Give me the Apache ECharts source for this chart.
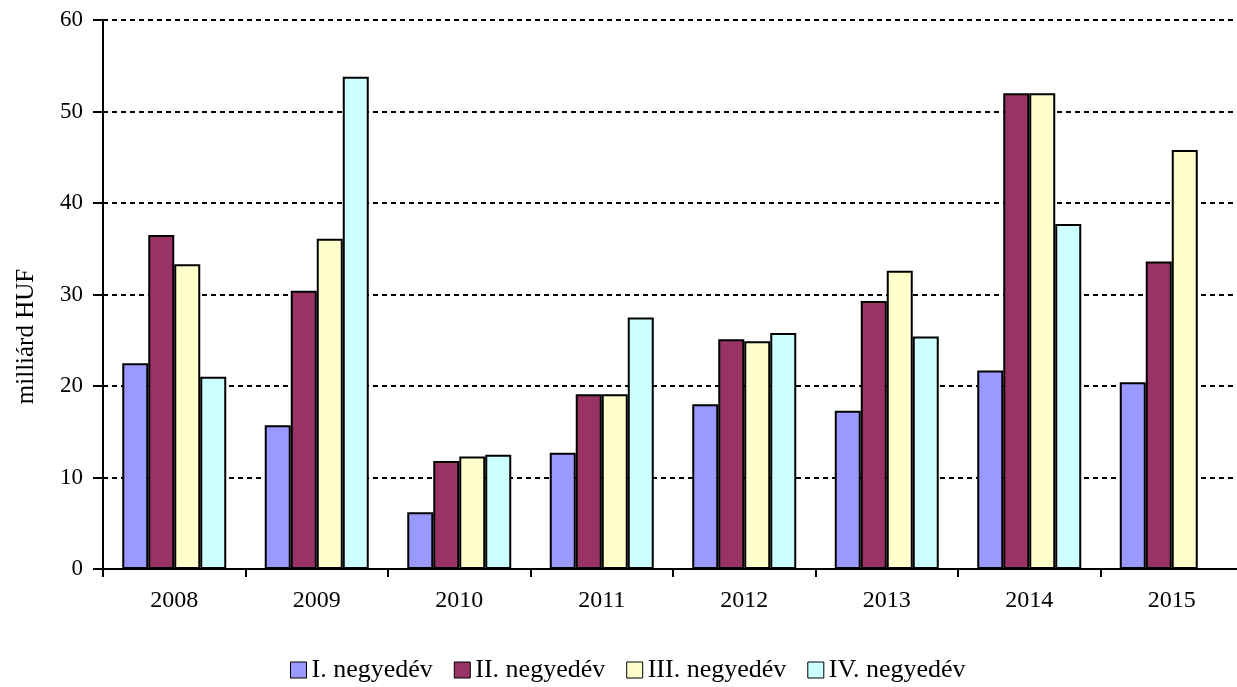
<!DOCTYPE html>
<html>
<head>
  <meta charset="utf-8">
  <title>Negyedéves adatok</title>
  <script src="https://cdn.jsdelivr.net/npm/echarts@6/dist/echarts.min.js"></script>
  <style>
    body { margin: 0; background: #fff; }
    #chart { width: 1237px; height: 687px; }
  </style>
</head>
<body>
  <div id="chart"></div>
  <script>
    var years = ['2008', '2009', '2010', '2011', '2012', '2013', '2014', '2015'];
    var q1 = [22.5, 15.7, 6.2, 12.7, 18.0, 17.3, 21.7, 20.4];
    var q2 = [36.5, 30.4, 11.8, 19.1, 25.1, 29.3, 52.0, 33.6];
    var q3 = [33.3, 36.1, 12.3, 19.1, 24.9, 32.6, 52.0, 45.8];
    var q4 = [21.0, 53.8, 12.5, 27.5, 25.8, 25.4, 37.7, null];
    var seriesNames = ['I. negyedév', 'II. negyedév', 'III. negyedév', 'IV. negyedév'];
    var colors = ['#9999FF', '#993366', '#FFFFCC', '#CCFFFF'];

    var font = '"Liberation Serif", "Times New Roman", serif';
    var chart = echarts.init(document.getElementById('chart'));

    var seriesData = [q1, q2, q3, q4];
    var series = [];
    for (var i = 0; i < seriesData.length; i++) {
      series.push({
        name: seriesNames[i],
        type: 'bar',
        data: seriesData[i],
        barWidth: 26,
        barGap: '0%',
        itemStyle: { color: colors[i], borderColor: '#000', borderWidth: 2 },
        emphasis: { disabled: true }
      });
    }

    chart.setOption({
      animation: false,
      textStyle: { fontFamily: font },
      // the last category runs a little past the right edge of the picture
      grid: { left: 103, width: 1140, top: 20, bottom: 118, outerBoundsMode: 'none', containLabel: false },
      legend: {
        top: 652,
        left: 285,
        itemWidth: 16,
        itemHeight: 16,
        itemGap: 21,
        icon: 'rect',
        textStyle: { fontFamily: font, fontSize: 26, color: '#000' },
        itemStyle: { borderColor: '#000', borderWidth: 1 },
        data: seriesNames
      },
      xAxis: {
        type: 'category',
        data: years,
        axisLine: { lineStyle: { color: '#000', width: 2 } },
        axisTick: { show: true, length: 8, lineStyle: { color: '#000', width: 2 } },
        axisLabel: { color: '#000', fontSize: 24, fontFamily: font, margin: 20 }
      },
      yAxis: {
        type: 'value',
        min: 0,
        max: 60,
        interval: 10,
        name: 'milliárd HUF',
        nameLocation: 'middle',
        nameGap: 64,
        nameTextStyle: { color: '#000', fontSize: 25, fontFamily: font, padding: [0, 84, 0, 0] },
        axisLine: { show: true, lineStyle: { color: '#000', width: 2 } },
        axisTick: { show: true, length: 10, lineStyle: { color: '#000', width: 2 } },
        axisLabel: { color: '#000', fontSize: 23, fontFamily: font, margin: 20 },
        splitLine: { lineStyle: { color: '#000', type: [5, 4], width: 2 } }
      },
      series: series
    });
  </script>
</body>
</html>
